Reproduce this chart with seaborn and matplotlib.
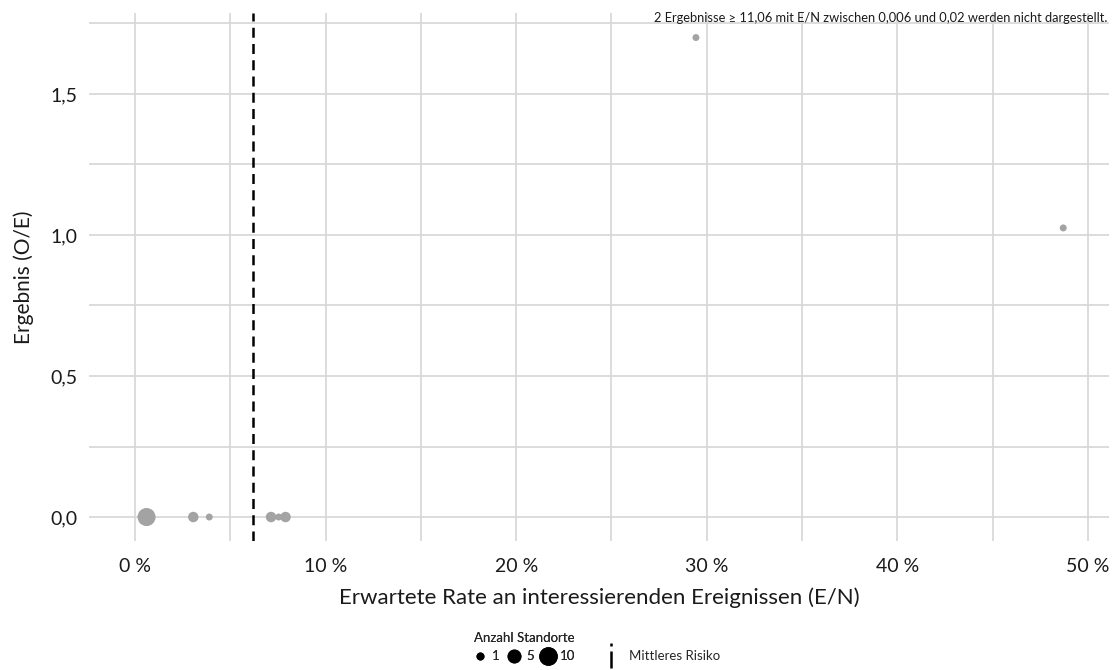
import pandas as pd
import matplotlib.pyplot as plt
import seaborn as sns
from matplotlib.lines import Line2D
from matplotlib.path import Path
from matplotlib.ticker import FuncFormatter, MultipleLocator

# Data
rate = [0.61, 3.06, 3.9, 7.14, 7.54, 7.9, 29.43, 48.7]        # E/N in %
result = [0.0, 0.0, 0.0, 0.0, 0.0, 0.0, 1.70, 1.025]          # O/E
sites = [10, 3, 1, 3, 1, 3, 1, 1]                             # Anzahl Standorte
mean_risk = 6.2
legend_sizes = [1, 5, 10]
note = '2 Ergebnisse \u2265 11,06 mit E/N zwischen 0,006 und 0,02 werden nicht dargestellt.'

df = pd.DataFrame({'rate': rate, 'result': result, 'sites': sites})

sns.set_style('white')
plt.rcParams['font.family'] = ['Lato', 'DejaVu Sans']
txt = '#1a1a1a'

fig = plt.figure(figsize=(11.15, 6.7), dpi=100)
ax = fig.add_axes([89 / 1115, 1 - 541 / 670, 1020 / 1115, 528 / 670])

size_range = (25, 169)
size_norm = (1, 10)
sns.scatterplot(data=df, x='rate', y='result', size='sites', sizes=size_range,
                size_norm=size_norm, color='#a3a3a3', edgecolor='none',
                legend=False, ax=ax, zorder=3)

ax.axvline(mean_risk, color='black', lw=1.8, dashes=(4, 2.5), zorder=4)

ax.set_xlim(-2.41, 51.1)
ax.set_ylim(-0.085, 1.787)
ax.xaxis.set_major_locator(MultipleLocator(10))
ax.xaxis.set_minor_locator(MultipleLocator(5))
ax.yaxis.set_major_locator(MultipleLocator(0.5))
ax.yaxis.set_minor_locator(MultipleLocator(0.25))
ax.xaxis.set_major_formatter(FuncFormatter(lambda v, p: f'{v:.0f} %'))
ax.yaxis.set_major_formatter(FuncFormatter(lambda v, p: f'{v:.1f}'.replace('.', ',')))
ax.grid(True, which='both', color='#d6d6d6', lw=1.2)
ax.set_axisbelow(True)
for s in ax.spines.values():
    s.set_visible(False)
ax.tick_params(axis='both', which='both', length=0, labelsize=14, colors=txt)
ax.tick_params(axis='x', pad=12)
ax.tick_params(axis='y', pad=8)

ax.set_xlabel('Erwartete Rate an interessierenden Ereignissen (E/N)', fontsize=16, color=txt, labelpad=9)
ax.set_ylabel('Ergebnis (O/E)', fontsize=15, color=txt, labelpad=12)

fig.text(1107 / 1115, 1 - 18 / 670, note, ha='right', va='center', fontsize=9.3, color=txt)

# size legend
lo, hi = size_range
size_handles = []
for v in legend_sizes:
    s = lo + (v - size_norm[0]) / (size_norm[1] - size_norm[0]) * (hi - lo)
    size_handles.append(Line2D([0], [0], ls='none', marker='o', color='black',
                               markersize=s ** 0.5 * 0.95))
leg1 = fig.legend(size_handles, [str(v) for v in legend_sizes], ncol=3,
                  title='Anzahl Standorte', loc='center',
                  bbox_to_anchor=(524 / 1115, 1 - 647 / 670), frameon=False,
                  fontsize=9.5, title_fontsize=9.5, handletextpad=0.3,
                  columnspacing=0.5, handlelength=1.2, borderpad=0)
fig.add_artist(leg1)

vdash = Path([(0, 1), (0, 0.7), (0, 0.36), (0, -1)],
             [Path.MOVETO, Path.LINETO, Path.MOVETO, Path.LINETO])
risk_handle = Line2D([0], [0], ls='none', marker=vdash, markersize=18,
                     markeredgewidth=1.8, color='black')
fig.legend([risk_handle], ['Mittleres Risiko'], loc='center',
           bbox_to_anchor=(662 / 1115, 1 - 656 / 670), frameon=False,
           fontsize=9.5, handletextpad=0.9, handlelength=1.0, borderpad=0)

fig.savefig('out.png', dpi=100)
